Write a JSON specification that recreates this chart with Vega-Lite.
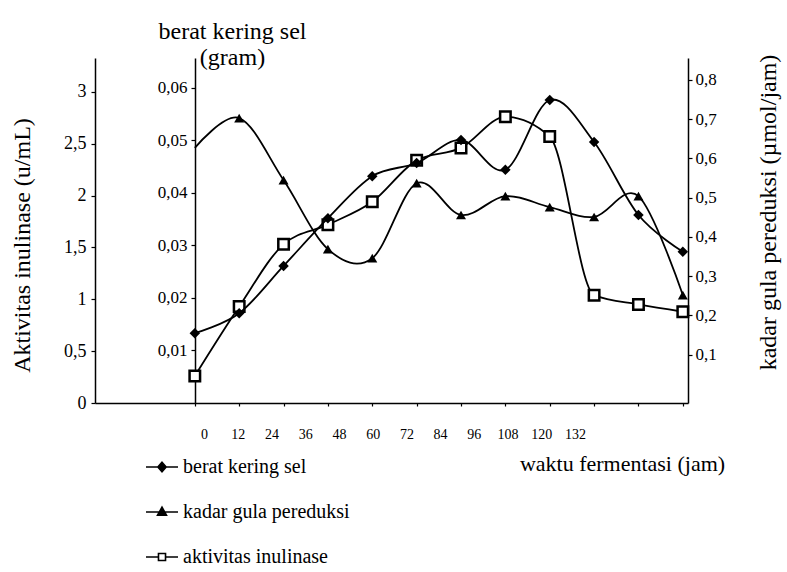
{
  "$schema": "https://vega.github.io/schema/vega-lite/v6.json",
  "width": 593,
  "height": 345,
  "autosize": {"type": "none"},
  "padding": {"left": 95, "top": 58, "right": 99, "bottom": 169},
  "background": "white",
  "config": {
    "view": {"stroke": null},
    "axis": {
      "labelFont": "Liberation Serif", "titleFont": "Liberation Serif",
      "labelColor": "black", "titleColor": "black", "domainColor": "black", "tickColor": "black",
      "grid": false, "titleFontWeight": "normal", "labelFontSize": 17, "titleFontSize": 24,
      "domainWidth": 1.5, "tickWidth": 1.2
    }
  },
  "datasets": {
    "d": [
      {"jam": 0, "seri": "berat kering sel", "nilai": 0.0133},
      {"jam": 12, "seri": "berat kering sel", "nilai": 0.0171},
      {"jam": 24, "seri": "berat kering sel", "nilai": 0.0261},
      {"jam": 36, "seri": "berat kering sel", "nilai": 0.0352},
      {"jam": 48, "seri": "berat kering sel", "nilai": 0.0432},
      {"jam": 60, "seri": "berat kering sel", "nilai": 0.0457},
      {"jam": 72, "seri": "berat kering sel", "nilai": 0.0501},
      {"jam": 84, "seri": "berat kering sel", "nilai": 0.0444},
      {"jam": 96, "seri": "berat kering sel", "nilai": 0.0577},
      {"jam": 108, "seri": "berat kering sel", "nilai": 0.0497},
      {"jam": 120, "seri": "berat kering sel", "nilai": 0.0358},
      {"jam": 132, "seri": "berat kering sel", "nilai": 0.0288},
      {"jam": 0, "seri": "kadar gula pereduksi", "nilai": 0.627},
      {"jam": 12, "seri": "kadar gula pereduksi", "nilai": 0.703},
      {"jam": 24, "seri": "kadar gula pereduksi", "nilai": 0.545},
      {"jam": 36, "seri": "kadar gula pereduksi", "nilai": 0.369},
      {"jam": 48, "seri": "kadar gula pereduksi", "nilai": 0.346},
      {"jam": 60, "seri": "kadar gula pereduksi", "nilai": 0.537},
      {"jam": 72, "seri": "kadar gula pereduksi", "nilai": 0.456},
      {"jam": 84, "seri": "kadar gula pereduksi", "nilai": 0.504},
      {"jam": 96, "seri": "kadar gula pereduksi", "nilai": 0.476},
      {"jam": 108, "seri": "kadar gula pereduksi", "nilai": 0.451},
      {"jam": 120, "seri": "kadar gula pereduksi", "nilai": 0.504},
      {"jam": 132, "seri": "kadar gula pereduksi", "nilai": 0.252},
      {"jam": 0, "seri": "aktivitas inulinase", "nilai": 0.26},
      {"jam": 12, "seri": "aktivitas inulinase", "nilai": 0.93},
      {"jam": 24, "seri": "aktivitas inulinase", "nilai": 1.53},
      {"jam": 36, "seri": "aktivitas inulinase", "nilai": 1.72},
      {"jam": 48, "seri": "aktivitas inulinase", "nilai": 1.94},
      {"jam": 60, "seri": "aktivitas inulinase", "nilai": 2.34},
      {"jam": 72, "seri": "aktivitas inulinase", "nilai": 2.46},
      {"jam": 84, "seri": "aktivitas inulinase", "nilai": 2.76},
      {"jam": 96, "seri": "aktivitas inulinase", "nilai": 2.57},
      {"jam": 108, "seri": "aktivitas inulinase", "nilai": 1.04},
      {"jam": 120, "seri": "aktivitas inulinase", "nilai": 0.95},
      {"jam": 132, "seri": "aktivitas inulinase", "nilai": 0.88}
    ]
  },
  "data": {"name": "d"},
  "layer": [
    {
      "transform": [{"filter": "datum.seri == 'aktivitas inulinase'"}],
      "encoding": {
        "x": {"field": "jam", "type": "quantitative",
          "scale": {"domain": [-27, 133.4], "nice": false, "zero": false},
          "axis": {"orient": "bottom", "labels": false, "ticks": true, "tickSize": 3,
            "values": [0, 12, 24, 36, 48, 60, 72, 84, 96, 108, 120, 132], "title": null}},
        "y": {"field": "nilai", "type": "quantitative",
          "scale": {"domain": [0, 3.327], "nice": false, "zero": false},
          "axis": {"orient": "left", "offset": 0, "values": [0, 0.5, 1, 1.5, 2, 2.5, 3],
            "labelExpr": "replace(format(datum.value, '~g'), '.', ',')",
            "tickSize": 4, "labelPadding": 5, "labelFontSize": 18,
            "title": "Aktivitas inulinase (u/mL)", "titleX": -73, "titleY": 187,
            "titleAngle": 270, "titleAlign": "center", "titleBaseline": "middle"}}
      },
      "layer": [
        {"mark": {"type": "line", "interpolate": "monotone", "color": "black", "strokeWidth": 1.8}},
        {"mark": {"type": "point", "shape": "square", "filled": false, "fill": "white", "fillOpacity": 1, "stroke": "black", "strokeWidth": 2.5, "size": 110, "opacity": 1}}
      ]
    },
    {
      "transform": [{"filter": "datum.seri == 'berat kering sel'"}],
      "encoding": {
        "x": {"field": "jam", "type": "quantitative",
          "scale": {"domain": [-27, 133.4], "nice": false, "zero": false}, "axis": null},
        "y": {"field": "nilai", "type": "quantitative",
          "scale": {"domain": [0, 0.0657], "nice": false, "zero": false},
          "axis": {"orient": "left", "offset": -100, "values": [0.01, 0.02, 0.03, 0.04, 0.05, 0.06],
            "labelExpr": "replace(format(datum.value, '.2f'), '.', ',')",
            "tickSize": 4, "labelPadding": 4,
            "title": ["berat kering sel", "(gram)"], "titleAngle": 0, "titleX": 37, "titleY": -39,
            "titleAlign": "center", "titleBaseline": "top", "titleLineHeight": 26}}
      },
      "layer": [
        {"mark": {"type": "line", "interpolate": "cardinal", "color": "black", "strokeWidth": 1.8}},
        {"mark": {"type": "point", "shape": "diamond", "filled": true, "color": "black", "size": 110, "opacity": 1}}
      ]
    },
    {
      "transform": [{"filter": "datum.seri == 'kadar gula pereduksi'"}],
      "encoding": {
        "x": {"field": "jam", "type": "quantitative",
          "scale": {"domain": [-27, 133.4], "nice": false, "zero": false}, "axis": null},
        "y": {"field": "nilai", "type": "quantitative",
          "scale": {"domain": [-0.023, 0.856], "nice": false, "zero": false},
          "axis": {"orient": "right", "values": [0.1, 0.2, 0.3, 0.4, 0.5, 0.6, 0.7, 0.8],
            "labelExpr": "replace(format(datum.value, '.1f'), '.', ',')",
            "tickSize": 4, "labelPadding": 3,
            "title": "kadar gula pereduksi (µmol/jam)", "titleAngle": 270, "titleX": 80, "titleY": 154,
            "titleAlign": "center", "titleBaseline": "middle"}}
      },
      "layer": [
        {"mark": {"type": "line", "interpolate": "cardinal", "color": "black", "strokeWidth": 1.8}},
        {"transform": [{"filter": "datum.jam > 0"}],
         "mark": {"type": "point", "shape": "triangle-up", "filled": true, "color": "black", "size": 100, "opacity": 1}}
      ]
    },
    {
      "transform": [{"filter": "datum.seri == 'aktivitas inulinase'"}],
      "mark": {"type": "point", "opacity": 0},
      "encoding": {
        "x": {"field": "jam", "type": "quantitative",
          "scale": {"domain": [-38.8, 172.2], "nice": false, "zero": false},
          "axis": {"orient": "bottom", "domain": false, "ticks": false, "tickSize": 0, "labelPadding": 24,
            "values": [0, 12, 24, 36, 48, 60, 72, 84, 96, 108, 120, 132],
            "labelFontSize": 14, "labelFlush": false, "labelOverlap": false,
            "title": "waktu fermentasi (jam)", "titleX": 527, "titleY": 50,
            "titleAlign": "center", "titleBaseline": "top", "titleFontSize": 22}}
      }
    },
    {
      "mark": {"type": "point", "filled": true, "opacity": 0, "stroke": "black"},
      "encoding": {
        "shape": {"field": "seri", "type": "nominal",
          "scale": {"domain": ["berat kering sel", "kadar gula pereduksi", "aktivitas inulinase"],
            "range": [
              "M-1,0H1M0,-0.3L0.26,0L0,0.3L-0.26,0Z",
              "M-1,0H1M0,-0.3L0.28,0.2L-0.28,0.2Z",
              "M-1,0H-0.22M0.22,0H1M-0.22,-0.22H0.22V0.22H-0.22Z"
            ]},
          "legend": {"title": null, "orient": "none", "legendX": 50, "legendY": 392, "direction": "vertical",
            "symbolSize": 1024, "symbolOpacity": 1, "symbolStrokeColor": "black", "symbolStrokeWidth": 1.6,
            "rowPadding": 18, "labelFont": "Liberation Serif", "labelFontSize": 20, "labelColor": "black",
            "labelLimit": 400, "labelOffset": 4,
            "encode": {"symbols": {"update": {"stroke": {"value": "black"}, "strokeWidth": {"value": 1.6}, "opacity": {"value": 1}, "strokeOpacity": {"value": 1}}}}}},
        "fill": {"field": "seri", "type": "nominal",
          "scale": {"domain": ["berat kering sel", "kadar gula pereduksi", "aktivitas inulinase"],
            "range": ["black", "black", "white"]},
          "legend": {"title": null, "orient": "none", "legendX": 50, "legendY": 392, "direction": "vertical",
            "symbolSize": 1024, "symbolOpacity": 1, "symbolStrokeColor": "black", "symbolStrokeWidth": 1.6,
            "rowPadding": 18, "labelFont": "Liberation Serif", "labelFontSize": 20, "labelColor": "black",
            "labelLimit": 400, "labelOffset": 4,
            "encode": {"symbols": {"update": {"stroke": {"value": "black"}, "strokeWidth": {"value": 1.6}, "opacity": {"value": 1}, "strokeOpacity": {"value": 1}}}}}}
      }
    }
  ],
  "resolve": {
    "scale": {"x": "independent", "y": "independent", "shape": "independent", "fill": "independent"},
    "axis": {"x": "independent", "y": "independent"}
  }
}
